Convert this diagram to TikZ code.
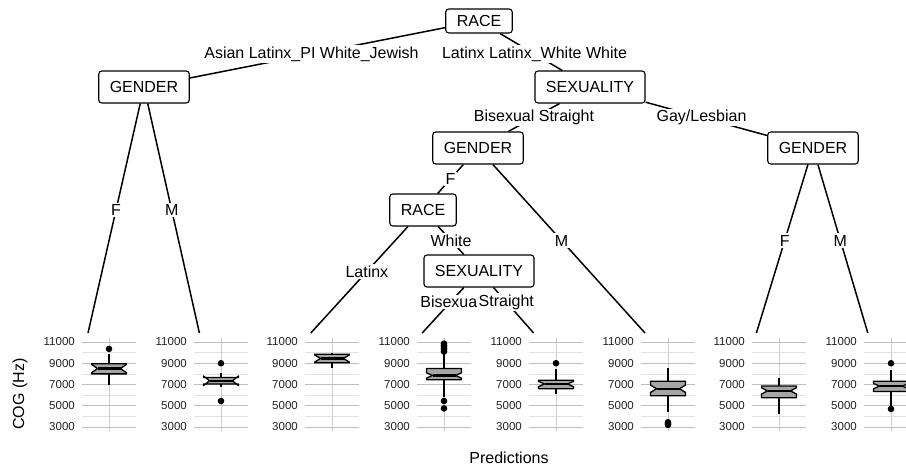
\documentclass[tikz,border=0pt]{standalone}
\usepackage{fontspec}
\setmainfont{Liberation Sans}
\usetikzlibrary{calc}
\definecolor{gridMaj}{RGB}{190,190,190}
\definecolor{gridMin}{RGB}{226,226,226}
\definecolor{boxFill}{RGB}{165,165,165}
\definecolor{tickG}{RGB}{35,35,35}

\begin{document}
\begin{tikzpicture}[x=1pt,y=-1pt, every node/.style={font=\fontsize{16}{18}\selectfont},
  split/.style={draw, line width=1.1pt, rounded corners=3pt, fill=white, minimum height=32pt, inner xsep=11pt, inner ysep=0pt},
  lab/.style={fill=white, inner sep=1.5pt},
  edge/.style={line width=1.5pt},
  tick/.style={anchor=east, inner sep=0pt, text=tickG, font=\fontsize{11.5}{13}\selectfont},
  whisk/.style={line width=1.6pt},
  notchbox/.style={fill=boxFill, draw=black, line width=1.3pt, line join=round}]
  \useasboundingbox (0,0) rectangle (906,466);

  % inner nodes of the tree
  \node[split, minimum height=24pt] (race) at (479,21) {RACE};
  \node[split] (genL) at (144,87) {GENDER};
  \node[split] (sexT) at (590,87) {SEXUALITY};
  \node[split] (genM) at (478,148) {GENDER};
  \node[split] (genR) at (813,148) {GENDER};
  \node[split] (raceM) at (423,210) {RACE};
  \node[split] (sexB) at (479,271) {SEXUALITY};

  % tops of the terminal panels
  \foreach \i in {1,...,8}
    \coordinate (p\i) at ({88+(\i-1)*111.4},333);

  % edges with their labels at the midpoint
  \foreach \a/\b/\t in {race/genL/{Asian Latinx\_PI White\_Jewish}, race/sexT/{Latinx Latinx\_White White},
      genL/p1/{F}, genL/p2/{M}, sexT/genM/{Bisexual Straight}, sexT/genR/{Gay/Lesbian},
      genM/raceM/{F}, genM/p6/{M}, raceM/p3/{Latinx}, raceM/sexB/{White},
      sexB/p4/{Bisexual}, sexB/p5/{Straight}, genR/p7/{F}, genR/p8/{M}} {
    \draw[edge] (\a) -- (\b) node[lab] (l-\a-\b) at ($(\a)!.5!(\b)$) {\t};
  }

  % terminal boxplots: centre / lower whisker / Q1 / median / Q3 / upper whisker / notch (kHz)
  \foreach \cx/\lw/\qa/\md/\qb/\uw/\nd in {109/7.0/8.0/8.5/8.95/9.9/0.40, 221/6.8/7.05/7.35/7.65/8.1/0.45,
      332/8.6/9.05/9.45/9.85/9.95/0.35, 444/5.85/7.45/7.85/8.5/9.95/0.25, 556/6.15/6.6/7.05/7.4/8.45/0.25,
      668/4.45/5.95/6.6/7.3/8.6/0.35, 779/4.2/5.75/6.4/6.85/7.65/0.30, 891/4.95/6.35/6.85/7.3/8.4/0.25} {
    \foreach \v in {4,6,8,10} {
      \pgfmathsetmacro{\yy}{342+(11-\v)*10.625}
      \draw[gridMin, line width=0.7pt] (\cx-27,\yy) -- (\cx+27,\yy);
    }
    \draw[gridMaj!75, line width=0.7pt] (\cx,338) -- (\cx,431);
    \foreach \v in {3,5,7,9,11} {
      \pgfmathsetmacro{\yy}{342+(11-\v)*10.625}
      \draw[gridMaj, line width=0.8pt] (\cx-27,\yy) -- (\cx+27,\yy);
      \node[tick] (t\cx-\v) at (\cx-34,\yy) {\v000};
    }
    \pgfmathsetmacro{\ylw}{342+(11-\lw)*10.625}
    \pgfmathsetmacro{\yqa}{342+(11-\qa)*10.625}
    \pgfmathsetmacro{\ymd}{342+(11-\md)*10.625}
    \pgfmathsetmacro{\yqb}{342+(11-\qb)*10.625}
    \pgfmathsetmacro{\yuw}{342+(11-\uw)*10.625}
    \pgfmathsetmacro{\ylo}{342+(11-\md+\nd)*10.625}
    \pgfmathsetmacro{\yhi}{342+(11-\md-\nd)*10.625}
    \draw[whisk] (\cx,\yqa) -- (\cx,\ylw);
    \draw[whisk] (\cx,\yqb) -- (\cx,\yuw);
    \filldraw[notchbox] (\cx-17.5,\yqa) -- (\cx-17.5,\ylo) -- (\cx-11.5,\ymd) -- (\cx-17.5,\yhi) -- (\cx-17.5,\yqb)
      -- (\cx+17.5,\yqb) -- (\cx+17.5,\yhi) -- (\cx+11.5,\ymd) -- (\cx+17.5,\ylo) -- (\cx+17.5,\yqa) -- cycle;
    \draw[line width=2.2pt] (\cx-11.5,\ymd) -- (\cx+11.5,\ymd);
  }

  % outliers
  \foreach \cx/\v in {109/10.35, 221/9.0, 221/5.45, 444/10.1, 444/10.25, 444/10.4, 444/10.55, 444/10.7, 444/10.85,
      444/5.45, 444/4.75, 556/9.0, 668/3.45, 668/3.3, 668/3.2, 891/9.0, 891/4.7}
    \fill (\cx,{342+(11-\v)*10.625}) circle (3.3pt);

  \node[rotate=90] (ylab) at (20,394) {COG (Hz)};
  \node (xlab) at (509,458) {Predictions};
\end{tikzpicture}
\end{document}
